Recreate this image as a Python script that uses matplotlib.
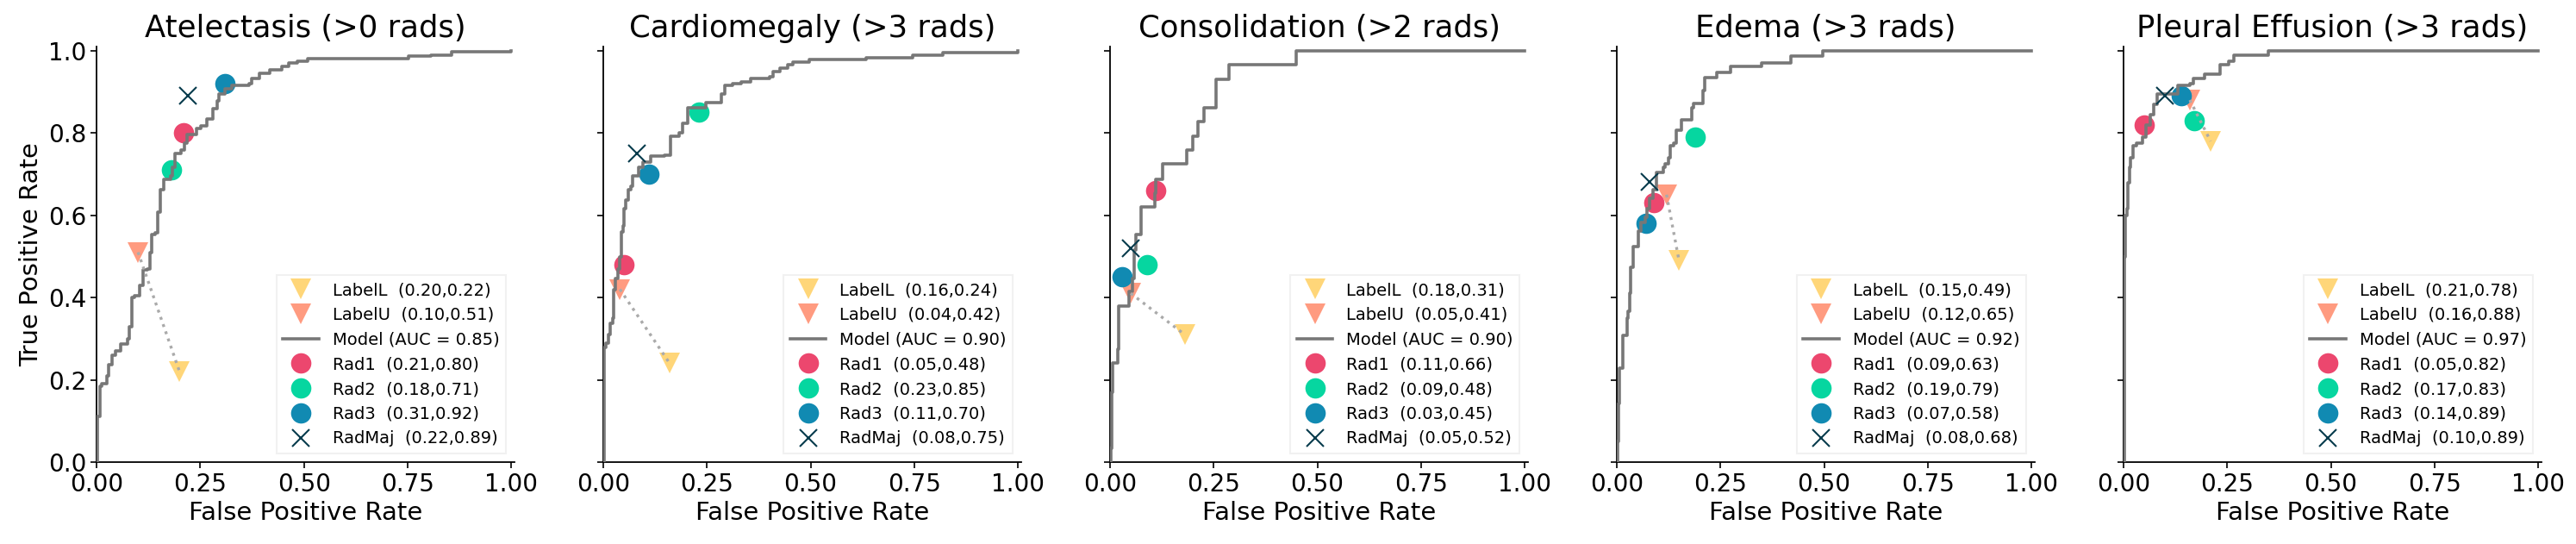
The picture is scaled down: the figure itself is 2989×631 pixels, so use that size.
import matplotlib
matplotlib.use("Agg")
import matplotlib.pyplot as plt
from matplotlib.lines import Line2D

titles = ['Atelectasis (>0 rads)', 'Cardiomegaly (>3 rads)', 'Consolidation (>2 rads)',
          'Edema (>3 rads)', 'Pleural Effusion (>3 rads)']
auc = [0.85, 0.90, 0.90, 0.92, 0.97]

# ROC curves (fpr, tpr)
fpr_atel = [0, 0.0025, 0.008, 0.012, 0.025, 0.029, 0.037, 0.046, 0.058, 0.075, 0.079, 0.085, 0.091,
            0.103, 0.112, 0.122, 0.128, 0.132, 0.141, 0.147, 0.153, 0.161, 0.178, 0.182, 0.19, 0.203,
            0.211, 0.219, 0.24, 0.252, 0.265, 0.281, 0.29, 0.294, 0.31, 0.327, 0.368, 0.373, 0.393,
            0.418, 0.447, 0.464, 0.484, 0.509, 0.753, 0.807, 0.857, 1.0]
tpr_atel = [0, 0.11, 0.185, 0.19, 0.21, 0.236, 0.26, 0.27, 0.287, 0.30, 0.33, 0.40, 0.405,
            0.43, 0.468, 0.47, 0.51, 0.553, 0.557, 0.607, 0.662, 0.688, 0.696, 0.717, 0.751, 0.759,
            0.776, 0.797, 0.81, 0.818, 0.835, 0.86, 0.877, 0.895, 0.907, 0.916, 0.92, 0.932, 0.945,
            0.953, 0.962, 0.97, 0.975, 0.98, 0.987, 0.99, 0.997, 1.0]

fpr_card = [0, 0.0024, 0.0064, 0.0129, 0.016, 0.0225, 0.024, 0.029, 0.0346, 0.040, 0.0426, 0.048,
            0.0507, 0.0547, 0.061, 0.0668, 0.0708, 0.085, 0.095, 0.115, 0.147, 0.161, 0.162, 0.183,
            0.191, 0.204, 0.248, 0.284, 0.292, 0.312, 0.332, 0.356, 0.40, 0.409, 0.425, 0.445,
            0.457, 0.497, 0.634, 0.747, 0.819, 1.0]
tpr_card = [0, 0.278, 0.29, 0.31, 0.338, 0.35, 0.42, 0.447, 0.47, 0.498, 0.56, 0.574,
            0.616, 0.637, 0.662, 0.67, 0.696, 0.717, 0.73, 0.743, 0.747, 0.751, 0.793, 0.80,
            0.823, 0.861, 0.873, 0.895, 0.916, 0.92, 0.924, 0.932, 0.937, 0.949, 0.958, 0.966,
            0.972, 0.979, 0.983, 0.99, 0.996, 1.0]

fpr_cons = [0, 0.0016, 0.0032, 0.0064, 0.018, 0.021, 0.045, 0.053, 0.0586, 0.0626, 0.0746, 0.107,
            0.111, 0.127, 0.185, 0.199, 0.211, 0.227, 0.255, 0.287, 0.448, 1.0]
tpr_cons = [0, 0.034, 0.169, 0.24, 0.274, 0.38, 0.414, 0.447, 0.515, 0.553, 0.62, 0.654,
            0.688, 0.726, 0.758, 0.793, 0.827, 0.861, 0.93, 0.966, 1.0, 1.0]

fpr_edem = [0, 0.0024, 0.004, 0.0064, 0.0136, 0.024, 0.028, 0.0305, 0.0337, 0.0385, 0.052, 0.0577,
            0.068, 0.072, 0.080, 0.088, 0.096, 0.112, 0.116, 0.124, 0.128, 0.138, 0.143, 0.156,
            0.180, 0.184, 0.2085, 0.2125, 0.242, 0.274, 0.350, 0.419, 0.497, 1.0]
tpr_edem = [0, 0.05, 0.143, 0.228, 0.308, 0.35, 0.367, 0.41, 0.473, 0.523, 0.561, 0.582,
            0.595, 0.616, 0.641, 0.662, 0.705, 0.717, 0.726, 0.739, 0.768, 0.776, 0.806, 0.831,
            0.861, 0.871, 0.903, 0.935, 0.947, 0.962, 0.97, 0.987, 1.0, 1.0]

fpr_pleu = [0, 0.0016, 0.0031, 0.0047, 0.0079, 0.0102, 0.0142, 0.0165, 0.022, 0.0315, 0.0457,
            0.0535, 0.065, 0.073, 0.081, 0.132, 0.16, 0.168, 0.195, 0.232, 0.254, 0.266, 0.349, 1.0]
tpr_pleu = [0, 0.27, 0.498, 0.599, 0.616, 0.679, 0.717, 0.739, 0.768, 0.776, 0.789,
            0.819, 0.844, 0.869, 0.895, 0.916, 0.92, 0.932, 0.943, 0.966, 0.975, 0.989, 1.0, 1.0]

fprs = [fpr_atel, fpr_card, fpr_cons, fpr_edem, fpr_pleu]
tprs = [tpr_atel, tpr_card, tpr_cons, tpr_edem, tpr_pleu]

# operating points (fpr, tpr) per task
label_l = [(0.20, 0.22), (0.16, 0.24), (0.18, 0.31), (0.15, 0.49), (0.21, 0.78)]
label_u = [(0.10, 0.51), (0.04, 0.42), (0.05, 0.41), (0.12, 0.65), (0.16, 0.88)]
rad1 = [(0.21, 0.80), (0.05, 0.48), (0.11, 0.66), (0.09, 0.63), (0.05, 0.82)]
rad2 = [(0.18, 0.71), (0.23, 0.85), (0.09, 0.48), (0.19, 0.79), (0.17, 0.83)]
rad3 = [(0.31, 0.92), (0.11, 0.70), (0.03, 0.45), (0.07, 0.58), (0.14, 0.89)]
rad_maj = [(0.22, 0.89), (0.08, 0.75), (0.05, 0.52), (0.08, 0.68), (0.10, 0.89)]

c_labell = '#FFD679'
c_labelu = '#FF9B80'
c_rad1 = '#EC476E'
c_rad2 = '#06D6A0'
c_rad3 = '#118AB2'
c_maj = '#073B4C'
c_model = '#777777'

fig, axes = plt.subplots(1, 5, figsize=(29.89, 6.31), dpi=100, sharey=True)
fig.subplots_adjust(left=0.0375, right=0.9866, bottom=0.1506, top=0.9144, wspace=0.2124)

ms = 17
for i, ax in enumerate(axes):
    ax.plot(*label_l[i], 'v', color=c_labell, ms=ms, mew=0, zorder=2)
    ax.plot(*label_u[i], 'v', color=c_labelu, ms=ms, mew=0, zorder=2)
    ax.plot(*rad1[i], 'o', color=c_rad1, ms=ms, mew=0, zorder=2)
    ax.plot(*rad2[i], 'o', color=c_rad2, ms=ms, mew=0, zorder=2)
    ax.plot(*rad3[i], 'o', color=c_rad3, ms=ms, mew=0, zorder=2)
    ax.plot(*rad_maj[i], 'x', color=c_maj, ms=15, mew=1.5, zorder=4)
    ax.plot(fprs[i], tprs[i], color=c_model, lw=2.6, drawstyle='steps-post', zorder=3)
    ax.plot([label_u[i][0], label_l[i][0]], [label_u[i][1], label_l[i][1]],
            ls=':', color='#aaaaaa', lw=2.4, zorder=3)

    handles = [Line2D([], [], ls='', marker='v', color=c_labell, ms=ms, mew=0),
               Line2D([], [], ls='', marker='v', color=c_labelu, ms=ms, mew=0),
               Line2D([], [], color=c_model, lw=2.6),
               Line2D([], [], ls='', marker='o', color=c_rad1, ms=ms, mew=0),
               Line2D([], [], ls='', marker='o', color=c_rad2, ms=ms, mew=0),
               Line2D([], [], ls='', marker='o', color=c_rad3, ms=ms, mew=0),
               Line2D([], [], ls='', marker='x', color=c_maj, ms=15, mew=1.5)]
    texts = ['LabelL  (%.2f,%.2f)' % label_l[i],
             'LabelU  (%.2f,%.2f)' % label_u[i],
             'Model (AUC = %.2f)' % auc[i],
             'Rad1  (%.2f,%.2f)' % rad1[i],
             'Rad2  (%.2f,%.2f)' % rad2[i],
             'Rad3  (%.2f,%.2f)' % rad3[i],
             'RadMaj  (%.2f,%.2f)' % rad_maj[i]]
    leg = ax.legend(handles, texts, loc='lower right', fontsize=14, fancybox=False,
                    edgecolor='#eeeeee', handlelength=2.15)
    leg.get_frame().set_linewidth(1.5)

    ax.set_xlim(0, 1.008)
    ax.set_ylim(0, 1.01)
    ax.set_xticks([0, 0.25, 0.5, 0.75, 1.0])
    ax.set_xticklabels(['0.00', '0.25', '0.50', '0.75', '1.00'])
    ax.set_yticks([0, 0.2, 0.4, 0.6, 0.8, 1.0])
    ax.set_yticklabels(['0.0', '0.2', '0.4', '0.6', '0.8', '1.0'])
    ax.tick_params(labelsize=20, length=5, width=1.2)
    ax.spines['top'].set_visible(False)
    ax.spines['right'].set_visible(False)
    ax.spines['left'].set_linewidth(1.3)
    ax.spines['bottom'].set_linewidth(1.3)
    ax.set_title(titles[i], fontsize=25.5, pad=8)
    ax.set_xlabel('False Positive Rate', fontsize=21)

axes[0].set_ylabel('True Positive Rate', fontsize=21)

plt.savefig('out.png', dpi=100)
